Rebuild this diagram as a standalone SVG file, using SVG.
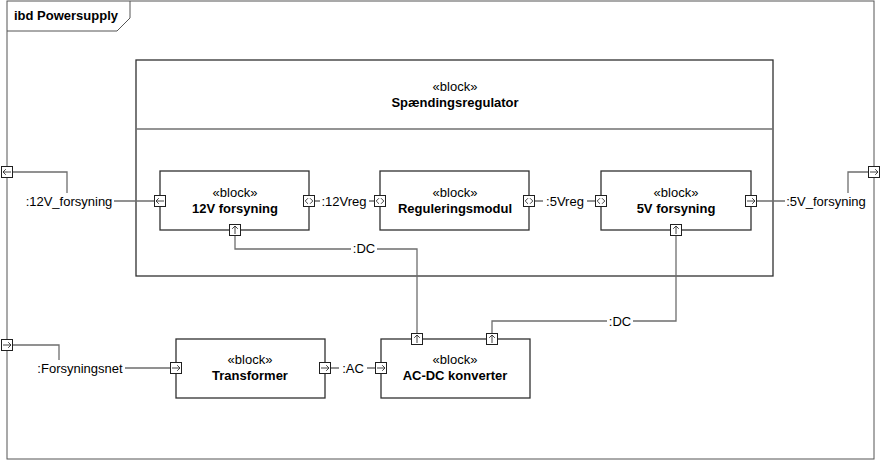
<svg xmlns="http://www.w3.org/2000/svg" xmlns:xlink="http://www.w3.org/1999/xlink" width="881" height="461" viewBox="0 0 881 461">
<style>
text{font-family:"Liberation Sans",Arial,sans-serif;font-size:13px;fill:#000}
.b{font-weight:bold}
.st{text-anchor:middle}
.blk{fill:#fff;stroke:#303030;stroke-width:1.3}
.con{fill:none;stroke:#6e6e6e;stroke-width:1.3}
.frame{fill:none;stroke:#555;stroke-width:1}
.lbl{text-anchor:middle}
.bg{fill:#fff}
.pb{fill:#fff;stroke:#202020;stroke-width:1}
.pa{fill:none;stroke:#303030;stroke-width:0.9}
</style>
<defs>
<g id="pL"><rect class="pb" x="-5.5" y="-5.5" width="11" height="11"/><path class="pa" d="M4,0H-4M-1.2,-2.8L-4,0L-1.2,2.8"/></g>
<g id="pR"><rect class="pb" x="-5.5" y="-5.5" width="11" height="11"/><path class="pa" d="M-4,0H4M1.2,-2.8L4,0L1.2,2.8"/></g>
<g id="pU"><rect class="pb" x="-5.5" y="-5.5" width="11" height="11"/><path class="pa" d="M0,4V-4M-2.8,-1.2L0,-4L2.8,-1.2"/></g>
<g id="pIO"><rect class="pb" x="-5.5" y="-5.5" width="11" height="11"/><path class="pa" d="M-1,-2.8L-3.8,0L-1,2.8M1,-2.8L3.8,0L1,2.8"/></g>
</defs>

<g id="frame">
<rect class="frame" x="7" y="1" width="867" height="458"/>
<path class="frame" d="M7,31H117L130,18V1"/>
<text class="b" x="14" y="20">ibd Powersupply</text>
</g>

<g id="Spaendingsregulator">
<rect class="blk" x="136" y="60" width="637" height="216"/>
<line x1="136" y1="129" x2="773" y2="129" stroke="#707070" stroke-width="1.3"/>
<text class="st" x="455" y="91">«block»</text>
<text class="st b" x="455" y="107">Spændingsregulator</text>
</g>

<g id="connectors">
<path class="con" d="M12,172H67V201H154"/>
<path class="con" d="M757,201H848V172H868"/>
<path class="con" d="M315,201H374"/>
<path class="con" d="M535,201H595"/>
<path class="con" d="M235,236V249H417V333"/>
<path class="con" d="M676,236V321H492V333"/>
<path class="con" d="M12,345H59V368H170"/>
<path class="con" d="M331,368H375"/>
<rect class="bg" x="24" y="193" width="90" height="16"/>
<text class="lbl" x="69" y="205.5">:12V_forsyning</text>
<rect class="bg" x="785" y="193" width="82" height="16"/>
<text class="lbl" x="826" y="205.5">:5V_forsyning</text>
<rect class="bg" x="320" y="193" width="49" height="16"/>
<text class="lbl" x="344" y="205.5">:12Vreg</text>
<rect class="bg" x="543" y="193" width="44" height="16"/>
<text class="lbl" x="565" y="205.5">:5Vreg</text>
<rect class="bg" x="351" y="241" width="26" height="16"/>
<text class="lbl" x="364" y="253">:DC</text>
<rect class="bg" x="607" y="313" width="26" height="16"/>
<text class="lbl" x="620" y="325.5">:DC</text>
<rect class="bg" x="35" y="360" width="90" height="16"/>
<text class="lbl" x="80" y="372.5">:Forsyningsnet</text>
<rect class="bg" x="339" y="360" width="28" height="16"/>
<text class="lbl" x="353" y="372.5">:AC</text>
</g>

<g id="forsyning12V">
<rect class="blk" x="160" y="171" width="149" height="59"/>
<text class="st" x="235" y="197">«block»</text>
<text class="st b" x="235" y="213">12V forsyning</text>
<use xlink:href="#pL" x="160" y="201"/>
<use xlink:href="#pIO" x="309" y="201"/>
<use xlink:href="#pU" x="235" y="230"/>
</g>

<g id="Reguleringsmodul">
<rect class="blk" x="380" y="171" width="149" height="59"/>
<text class="st" x="455" y="197">«block»</text>
<text class="st b" x="455" y="213">Reguleringsmodul</text>
<use xlink:href="#pIO" x="380" y="201"/>
<use xlink:href="#pIO" x="529" y="201"/>
</g>

<g id="forsyning5V">
<rect class="blk" x="601" y="171" width="150" height="59"/>
<text class="st" x="676" y="197">«block»</text>
<text class="st b" x="676" y="213">5V forsyning</text>
<use xlink:href="#pIO" x="601" y="201"/>
<use xlink:href="#pR" x="751" y="201"/>
<use xlink:href="#pU" x="676" y="230"/>
</g>

<g id="Transformer">
<rect class="blk" x="176" y="339" width="149" height="59"/>
<text class="st" x="250" y="364">«block»</text>
<text class="st b" x="250" y="380">Transformer</text>
<use xlink:href="#pR" x="176" y="368"/>
<use xlink:href="#pR" x="325" y="368"/>
</g>

<g id="ACDCkonverter">
<rect class="blk" x="381" y="339" width="149" height="59"/>
<text class="st" x="455" y="364">«block»</text>
<text class="st b" x="455" y="380">AC-DC konverter</text>
<use xlink:href="#pR" x="381" y="368"/>
<use xlink:href="#pU" x="417" y="339"/>
<use xlink:href="#pU" x="492" y="339"/>
</g>

<g id="framePorts">
<use xlink:href="#pL" x="7" y="172"/>
<use xlink:href="#pR" x="874" y="172"/>
<use xlink:href="#pR" x="7" y="345"/>
</g>
</svg>
